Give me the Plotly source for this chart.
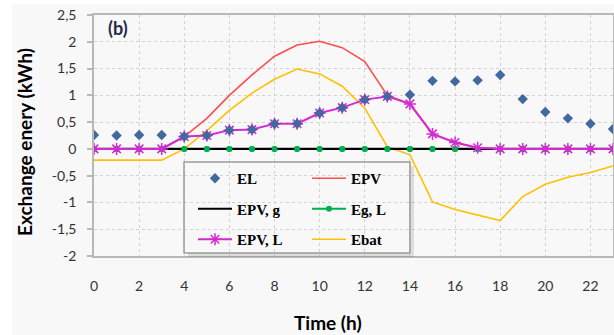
import plotly.graph_objects as go

# ---- data ----
hours = list(range(24))
EL = [0.26, 0.25, 0.26, 0.26, 0.23, 0.25, 0.35, 0.36, 0.47, 0.47, 0.67, 0.77,
      0.92, 0.98, 1.01, 1.27, 1.26, 1.28, 1.38, 0.93, 0.69, 0.57, 0.47, 0.37]
EPV = [0, 0, 0, 0, 0.23, 0.57, 1.0, 1.38, 1.73, 1.94, 2.01, 1.89,
       1.63, 1.0, 0.84, 0.28, 0.12, 0.02, 0, 0, 0, 0, 0, 0]
EPV_g = [0] * 24
Eg_L = [0] * 24
EPV_L = [0, 0, 0, 0, 0.23, 0.25, 0.35, 0.36, 0.47, 0.47, 0.67, 0.77,
         0.92, 0.98, 0.84, 0.28, 0.12, 0.02, 0, 0, 0, 0, 0, 0]
Ebat = [-0.21, -0.21, -0.21, -0.21, 0.0, 0.34, 0.72, 1.04, 1.3, 1.49, 1.4, 1.17,
        0.76, 0.04, -0.11, -0.99, -1.13, -1.24, -1.34, -0.89, -0.66, -0.53, -0.44, -0.32]

x_tickvals = [0, 2, 4, 6, 8, 10, 12, 14, 16, 18, 20, 22]
x_ticktext = ["0", "2", "4", "6", "8", "10", "12", "14", "16", "18", "20", "22"]
y_tickvals = [-2, -1.5, -1, -0.5, 0, 0.5, 1, 1.5, 2, 2.5]
y_ticktext = ["-2", "-1,5", "-1", "-0,5", "0", "0,5", "1", "1,5", "2", "2,5"]

W, H = 614, 335
L, R, T, B = 94, 1, 15, 79
PW, PH = W - L - R, H - T - B


def px_x(p):  # page pixel -> paper x
    return (p - L) / PW


def px_y(p):  # page pixel -> paper y
    return (H - B - p) / PH


fig = go.Figure()

fig.add_trace(go.Scatter(x=hours, y=EPV, name="EPV", mode="lines",
                         line=dict(color="#ff4d4d", width=1.6),
                         legend="legend2", legendgroup="b1", legendrank=1))
fig.add_trace(go.Scatter(x=hours, y=Ebat, name="Ebat", mode="lines",
                         line=dict(color="#ffc000", width=1.6),
                         legend="legend2", legendgroup="b3", legendrank=3))
fig.add_trace(go.Scatter(x=hours, y=Eg_L, name="Eg, L", mode="lines+markers",
                         line=dict(color="#00b050", width=2),
                         marker=dict(symbol="circle", size=6, color="#00b050"),
                         legend="legend2", legendgroup="b2", legendrank=2))
fig.add_trace(go.Scatter(x=hours, y=EPV_g, name="EPV, g", mode="lines",
                         line=dict(color="#000000", width=2.2),
                         legend="legend", legendgroup="a2", legendrank=2))
fig.add_trace(go.Scatter(x=hours, y=Eg_L, name="Eg, L", mode="markers",
                         marker=dict(symbol="circle", size=6, color="#00b050"),
                         showlegend=False, hoverinfo="skip"))
fig.add_trace(go.Scatter(x=hours, y=EPV_L, name="EPV, L", mode="lines+markers",
                         line=dict(color="#d42ad4", width=2),
                         marker=dict(symbol="asterisk-open", size=10,
                                     line=dict(color="#d42ad4", width=1.5)),
                         legend="legend", legendgroup="a3", legendrank=3))
fig.add_trace(go.Scatter(x=hours, y=EL, name="EL", mode="markers",
                         marker=dict(symbol="diamond", size=8, color="#41699f"),
                         legend="legend", legendgroup="a1", legendrank=1))

legend_font = dict(family="Liberation Serif", size=15, color="#000000", weight="bold")
legend_common = dict(xref="paper", yref="paper", xanchor="left", yanchor="top",
                     bgcolor="rgba(0,0,0,0)", borderwidth=0, font=legend_font,
                     itemwidth=34, tracegroupgap=8, traceorder="grouped")

shapes = [
    # outer light panel
    dict(type="rect", xref="paper", yref="paper", layer="below",
         x0=px_x(12), x1=px_x(660), y0=px_y(380), y1=px_y(4),
         fillcolor="#f8f8f8", line=dict(width=0)),
    # legend shadow
    dict(type="rect", xref="paper", yref="paper", layer="above",
         x0=px_x(410), x1=px_x(414), y0=px_y(257), y1=px_y(166),
         fillcolor="rgba(0,0,0,0.10)", line=dict(width=0)),
    dict(type="rect", xref="paper", yref="paper", layer="above",
         x0=px_x(188), x1=px_x(410), y0=px_y(257), y1=px_y(253),
         fillcolor="rgba(0,0,0,0.10)", line=dict(width=0)),
    # legend border
    dict(type="rect", xref="paper", yref="paper", layer="above",
         x0=px_x(184), x1=px_x(410), y0=px_y(253), y1=px_y(162),
         fillcolor="rgba(0,0,0,0)", line=dict(color="#9a9a9a", width=1.5)),
]

axis_common = dict(showgrid=True, gridcolor="#d2d2d2", griddash="dot", gridwidth=1,
                   showline=True, linecolor="#b8b8b8", linewidth=1.5, mirror=True,
                   zeroline=False, automargin=False, ticklabeloverflow="allow",
                   tickfont=dict(family="Lato", size=14, color="#333333"))

title_font = dict(family="Lato", size=19, color="#000000", weight="bold")

fig.update_layout(
    width=W, height=H,
    margin=dict(l=L, r=R, t=T, b=B, pad=0, autoexpand=False),
    paper_bgcolor="#ffffff",
    plot_bgcolor="#f8f8f8",
    showlegend=True,
    legend=dict(x=px_x(193), y=px_y(162), **legend_common),
    legend2=dict(x=px_x(307), y=px_y(162), **legend_common),
    xaxis=dict(range=[0, 23], tickmode="array", tickvals=x_tickvals, ticktext=x_ticktext,
               ticks="", ticklabelstandoff=16, **axis_common),
    yaxis=dict(range=[-2, 2.5], tickmode="array", tickvals=y_tickvals, ticktext=y_ticktext,
               ticks="outside", ticklen=5, tickcolor="#b8b8b8", tickwidth=1.5,
               ticklabelstandoff=8, **axis_common),
    shapes=shapes,
    annotations=[
        dict(text="(b)", xref="paper", yref="paper",
             x=px_x(106), y=px_y(28), xanchor="left", yanchor="middle",
             showarrow=False,
             font=dict(family="Lato", size=18, color="#1f2a4a", weight="bold")),
        dict(text="Time (h)", xref="paper", yref="paper",
             x=px_x(328), y=px_y(322), xanchor="center", yanchor="middle",
             showarrow=False, font=title_font),
        dict(text="Exchange enery (kWh)", xref="paper", yref="paper",
             x=px_x(24), y=px_y(142), xanchor="center", yanchor="middle",
             textangle=-90, showarrow=False, font=title_font),
    ],
)

fig.write_html("out.html",
               config={"displayModeBar": False},
               post_script="document.body.style.margin='0';document.body.style.padding='0';")
